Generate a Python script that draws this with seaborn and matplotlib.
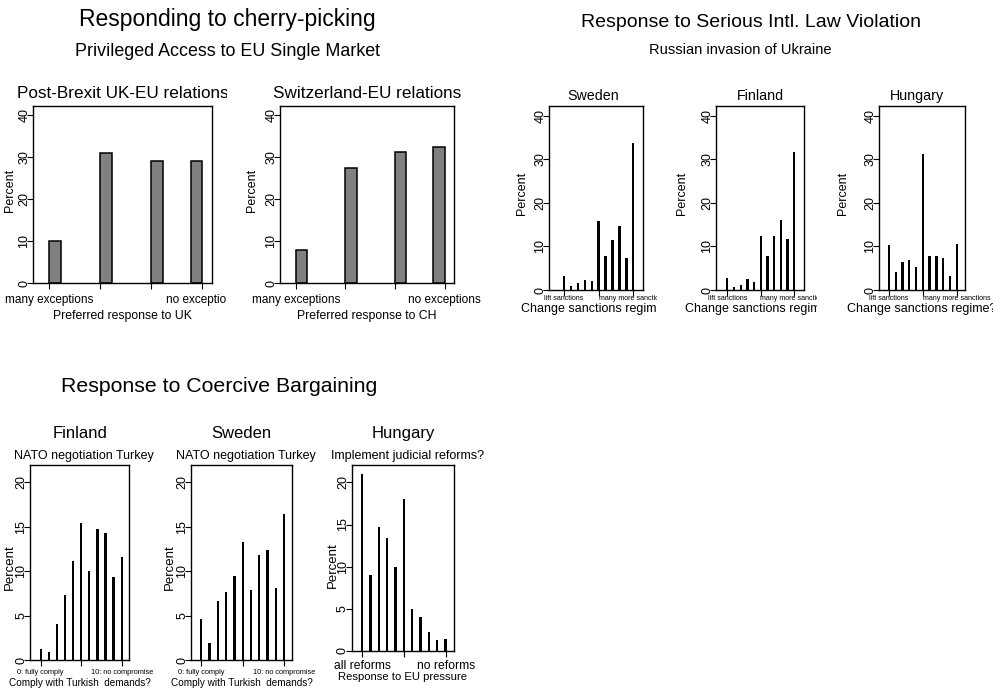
import numpy as np
import pandas as pd
import matplotlib
matplotlib.use("Agg")
import matplotlib.pyplot as plt
from matplotlib.transforms import Bbox, TransformedBbox
import seaborn as sns

sns.set_theme(style="ticks", rc={"text.color": "black", "axes.labelcolor": "black",
                                 "xtick.color": "black", "ytick.color": "black",
                                 "axes.edgecolor": "black"})
plt.rcParams["font.family"] = ["Liberation Sans", "DejaVu Sans"]

# ---------------- data ----------------
access_levels = [1, 2, 3, 4]
access_uk = [10.1, 31.0, 29.0, 29.2]
access_ch = [7.9, 27.5, 31.3, 32.5]
access_ticklabels = ["many exceptions", "", "", "no exceptions"]

sanction_levels = [-5, -4, -3, -2, -1, 0, 1, 2, 3, 4, 5]
sanctions_se = [3.2, 0.9, 1.5, 2.3, 2.0, 15.9, 7.8, 11.5, 14.7, 7.4, 33.8]
sanctions_fi = [2.7, 0.8, 1.1, 2.5, 1.8, 12.3, 7.8, 12.3, 16.0, 11.7, 31.6]
sanctions_hu = [10.4, 4.1, 6.4, 6.9, 5.2, 31.2, 7.7, 7.7, 7.3, 3.3, 10.6]
sanction_ticks = [-5, 0, 5]
sanction_ticklabels = ["lift sanctions", "", "many more sanctions"]

scale_levels = [0, 1, 2, 3, 4, 5, 6, 7, 8, 9, 10]
turkey_fi = [1.2, 0.9, 4.1, 7.3, 11.2, 15.4, 10.0, 14.8, 14.3, 9.3, 11.6]
turkey_se = [4.6, 1.9, 6.6, 7.7, 9.5, 13.3, 7.9, 11.8, 12.4, 8.1, 16.5]
reforms_hu = [21.0, 9.0, 14.7, 13.4, 10.0, 18.0, 5.0, 4.0, 2.2, 1.3, 1.4]
scale_ticks = [0, 5, 10]
turkey_ticklabels = ["0: fully comply", "", "10: no compromise"]
reform_ticklabels = ["all reforms", "", "no reforms"]

# ---------------- figure helpers ----------------
W, H = 993, 691
fig = plt.figure(figsize=(W / 100, H / 100), dpi=100)
fig.patch.set_facecolor("white")


def clip_region(x0, x1):
    return TransformedBbox(Bbox.from_extents(x0 / W, 0, x1 / W, 1), fig.transFigure)


def fig_text(x, y, s, size, clip=None):
    t = fig.text(x / W, 1 - y / H, s, fontsize=size, ha="center",
                 va="baseline", color="black")
    if clip is not None:
        t.set_clip_box(clip)
        t.set_clip_on(True)
    return t


def panel(rect, clip_x, cats, pct, xlim, ylim, yticks, xticks, xticklabels,
          bar_w, thick, xtick_fs, xtick_pad, xlabel, xlabel_y, xlabel_fs,
          ylabel_xy, ylabel_fs, title, title_xy, title_fs,
          sub=None, sub_xy=None, sub_fs=None, ytick_fs=9):
    l, t, r, b = rect
    ax = fig.add_axes([l / W, 1 - b / H, (r - l) / W, (b - t) / H])
    clip = clip_region(*clip_x)

    cats = np.asarray(cats, float)
    if thick:
        # histogram-style bins: each bin starts at its value, the last one ends at it
        centers = np.minimum(cats, cats.max() - bar_w) + bar_w / 2
        style = dict(color="#808080", edgecolor="black", linewidth=1.1)
    else:
        centers = cats
        style = dict(color="black", edgecolor="none", linewidth=0)
    gap = np.diff(np.sort(centers)).min()
    df = pd.DataFrame({"x": centers, "pct": pct})
    sns.barplot(data=df, x="x", y="pct", native_scale=True, width=bar_w / gap,
                saturation=1, errorbar=None, ax=ax, **style)

    ax.set_xlim(*xlim)
    ax.set_ylim(*ylim)
    ax.set_yticks(yticks)
    ax.set_yticklabels([str(v) for v in yticks])
    ax.set_xticks(xticks)
    ax.set_xticklabels(xticklabels)
    for s in ax.spines.values():
        s.set_visible(True)
        s.set_color("black")
        s.set_linewidth(1.0)
    ax.tick_params(axis="both", direction="out", length=4, width=0.8,
                   colors="black", labelcolor="black",
                   bottom=True, left=True, top=False, right=False)
    ax.tick_params(axis="y", labelrotation=90, labelsize=ytick_fs, pad=-2.0)
    ax.tick_params(axis="x", labelsize=xtick_fs, pad=xtick_pad)
    for lab in ax.get_yticklabels():
        lab.set_va("center")

    ax.set_ylabel("Percent", fontsize=ylabel_fs, va="center", color="black")
    ax.yaxis.set_label_coords((ylabel_xy[0] - l) / (r - l),
                              (b - ylabel_xy[1]) / (b - t))
    ax.set_xlabel(xlabel, fontsize=xlabel_fs, va="baseline", color="black")
    ax.xaxis.set_label_coords(0.5, (b - xlabel_y) / (b - t))

    texts = list(ax.get_xticklabels()) + list(ax.get_yticklabels())
    texts += [ax.xaxis.label, ax.yaxis.label]
    texts.append(fig_text(title_xy[0], title_xy[1], title, title_fs))
    if sub is not None:
        texts.append(fig_text(sub_xy[0], sub_xy[1], sub, sub_fs))
    for tx in texts:
        tx.set_clip_box(clip)
        tx.set_clip_on(True)
    return ax


# ---------------- top left: single market access ----------------
fig_text(227, 26, "Responding to cherry-picking", 16.5)
fig_text(227.5, 56, "Privileged Access to EU Single Market", 12.9)

access_common = dict(cats=access_levels, xlim=(0.68, 4.19), ylim=(0, 42.2),
                     yticks=[0, 10, 20, 30, 40], xticks=access_levels,
                     xticklabels=access_ticklabels, bar_w=0.23, thick=True,
                     xtick_fs=8.5, xtick_pad=4.0, xlabel_y=319.3, xlabel_fs=8.8,
                     ylabel_fs=9, title_fs=12.3)
panel(rect=(33, 106, 212, 283.3), clip_x=(0, 227), pct=access_uk,
      xlabel="Preferred response to UK", ylabel_xy=(10, 190),
      title="Post-Brexit UK-EU relations", title_xy=(122.5, 98.3), **access_common)
panel(rect=(280, 106, 454, 283.3), clip_x=(227, 490), pct=access_ch,
      xlabel="Preferred response to CH", ylabel_xy=(252.5, 190),
      title="Switzerland-EU relations", title_xy=(367, 98.3), **access_common)

# ---------------- top right: sanctions ----------------
fig_text(751, 27, "Response to Serious Intl. Law Violation", 14)
fig_text(740, 54, "Russian invasion of Ukraine", 10.5)

sanction_common = dict(cats=sanction_levels, ylim=(0, 42.2),
                       yticks=[0, 10, 20, 30, 40], xticks=sanction_ticks,
                       xticklabels=sanction_ticklabels, bar_w=0.34, thick=False,
                       xtick_fs=5.1, xtick_pad=-0.7,
                       xlabel="Change sanctions regime?", xlabel_y=312,
                       xlabel_fs=9, ylabel_fs=9, title_fs=10.3)
panel(rect=(549, 106, 642.7, 290), clip_x=(490, 657), pct=sanctions_se,
      xlim=(-7.16, 6.36), ylabel_xy=(521.7, 193),
      title="Sweden", title_xy=(593, 100), **sanction_common)
panel(rect=(716, 106, 804, 290), clip_x=(657, 817), pct=sanctions_fi,
      xlim=(-6.69, 6.45), ylabel_xy=(681.7, 193),
      title="Finland", title_xy=(760, 100), **sanction_common)
panel(rect=(879, 106, 965, 290), clip_x=(817, 993), pct=sanctions_hu,
      xlim=(-6.48, 6.23), ylabel_xy=(843.3, 193),
      title="Hungary", title_xy=(917, 100), **sanction_common)

# ---------------- bottom: coercive bargaining ----------------
fig_text(219, 392, "Response to Coercive Bargaining", 15.3)

scale_common = dict(cats=scale_levels, yticks=[0, 5, 10, 15, 20],
                    xticks=scale_ticks, bar_w=0.28, thick=False,
                    ylabel_fs=9.5, title_fs=12, sub_fs=9)
panel(rect=(30, 464.7, 129.3, 660), clip_x=(0, 155), pct=turkey_fi,
      xlim=(-1.32, 10.94), ylim=(0, 22.0), xticklabels=turkey_ticklabels,
      xtick_fs=5.3, xtick_pad=2.7, xlabel="Comply with Turkish  demands?",
      xlabel_y=686, xlabel_fs=7.2, ylabel_xy=(10, 567),
      title="Finland", title_xy=(80, 438),
      sub="NATO negotiation Turkey", sub_xy=(84, 459), **scale_common)
panel(rect=(191.3, 464.7, 292.3, 660), clip_x=(160, 317), pct=turkey_se,
      xlim=(-1.21, 11.0), ylim=(0, 22.0), xticklabels=turkey_ticklabels,
      xtick_fs=5.3, xtick_pad=2.7, xlabel="Comply with Turkish  demands?",
      xlabel_y=686, xlabel_fs=7.2, ylabel_xy=(170, 567),
      title="Sweden", title_xy=(241.7, 438),
      sub="NATO negotiation Turkey", sub_xy=(246, 459), **scale_common)
panel(rect=(351.7, 464.7, 454, 651), clip_x=(322, 493), pct=reforms_hu,
      xlim=(-1.27, 11.0), ylim=(0, 22.1), xticklabels=reform_ticklabels,
      xtick_fs=8.7, xtick_pad=2.5, xlabel="Response to EU pressure",
      xlabel_y=680, xlabel_fs=8.1, ylabel_xy=(333, 565),
      title="Hungary", title_xy=(403.3, 438),
      sub="Implement judicial reforms?", sub_xy=(408, 459), **scale_common)

fig.savefig("out.png", dpi=100, facecolor="white")
